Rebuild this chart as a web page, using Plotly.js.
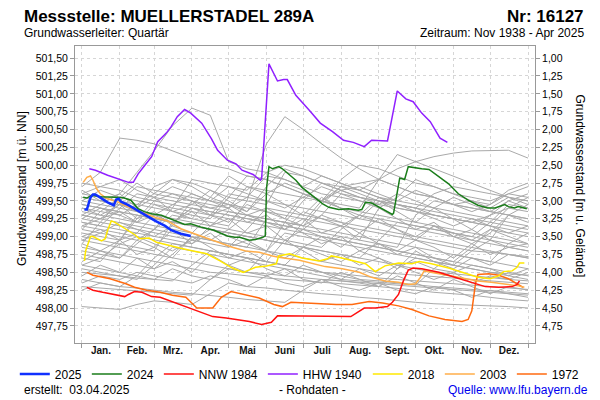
<!DOCTYPE html>
<html>
<head>
<meta charset="utf-8">
<script src="https://cdn.plot.ly/plotly-3.0.1.min.js"></script>
<style>html,body{margin:0;padding:0;background:#fff}#chart{width:600px;height:400px}</style>
</head>
<body>
<div id="chart"></div>
<script>
// ---------- data (day of year, level in m ü. NN) ----------
const MONTH_EDGES = [0,31,59,90,120,151,181,212,243,273,304,334,365];
const MONTH_MIDS = [15.5,45,74.5,105,135.5,166,196.5,227.5,258,288.5,319,349.5];
const MONTH_LABELS = ["Jan.","Feb.","Mrz.","Apr.","Mai","Juni","Juli","Aug.","Sept.","Okt.","Nov.","Dez."];
const LEFT_TICKS = [497.75,498.00,498.25,498.50,498.75,499.00,499.25,499.50,499.75,500.00,500.25,500.50,500.75,501.00,501.25,501.50];
const RIGHT_TICKS = [1.00,1.25,1.50,1.75,2.00,2.25,2.50,2.75,3.00,3.25,3.50,3.75,4.00,4.25,4.50,4.75];
const GROUND = 502.5;

const d2025 = [2,4,7,9,11,16,21,26,28,30,32,38,45,51,60,68,73,81,89];
const v2025 = [499.38,499.38,499.55,499.59,499.59,499.53,499.48,499.44,499.52,499.53,499.49,499.44,499.37,499.30,499.22,499.15,499.09,499.04,499.01];

const d2024 = [1,4,8,16,27,34,40,46,51,57,65,76,84,89,98,108,119,125,129,137,142,148,150,151,153,156,161,164,170,175,180,188,197,202,210,218,226,229,232,237,246,251,254,255,258,260,262,264,267,270,278,284,292,300,308,316,324,332,338,342,346,349,354,357,364];
const v2024 = [499.55,499.54,499.58,499.56,499.55,499.545,499.51,499.39,499.35,499.32,499.30,499.23,499.17,499.18,499.13,499.09,499.01,498.99,498.99,498.95,498.96,498.99,499.01,499.67,499.98,499.95,499.98,499.95,499.86,499.79,499.69,499.58,499.46,499.41,499.38,499.39,499.37,499.38,499.48,499.47,499.39,499.34,499.31,499.33,499.60,499.82,499.81,499.80,499.98,499.97,499.95,499.94,499.84,499.74,499.60,499.51,499.44,499.40,499.40,499.42,499.45,499.42,499.40,499.42,499.39];

const dNNW = [4,9,17,26,35,38,43,49,53,57,64,72,85,96,107,118,129,137,147,155,160,168,190,205,220,231,240,250,254,259,263,267,271,278,292,305,319,330,341,352,356,358];
const vNNW = [498.29,498.25,498.22,498.19,498.16,498.19,498.23,498.22,498.19,498.16,498.15,498.10,498.01,497.94,497.88,497.86,497.83,497.81,497.77,497.80,497.89,497.89,497.88,497.88,497.88,498.00,498.00,498.02,498.08,498.19,498.38,498.53,498.56,498.55,498.50,498.43,498.36,498.30,498.29,498.30,498.33,498.38];

const dHHW = [6,11,21,32,38,42,46,51,57,62,69,73,78,84,89,98,106,111,119,126,131,140,146,147,153,160,165,168,175,186,195,205,214,222,231,237,246,250,258,265,271,278,285,293,299];
const vHHW = [499.95,499.93,499.86,499.79,499.76,499.76,499.88,499.99,500.12,500.33,500.45,500.54,500.68,500.78,500.73,500.59,500.37,500.21,500.07,500.02,499.93,499.87,499.79,499.81,501.42,501.18,501.20,501.20,500.98,500.77,500.59,500.47,500.35,500.32,500.26,500.35,500.34,500.34,501.04,500.93,500.89,500.73,500.61,500.38,500.32];

const d2018 = [2,3,7,9,16,19,21,24,27,31,36,43,47,55,61,72,80,91,102,113,123,132,137,142,151,159,161,170,180,194,201,204,210,221,232,240,248,259,270,276,286,300,314,324,334,341,345,352,356,358,362];
const v2018 = [498.66,498.80,499.00,499.00,498.94,498.97,499.09,499.22,499.20,499.16,499.10,499.03,498.97,498.98,498.92,498.87,498.84,498.80,498.76,498.66,498.56,498.50,498.54,498.57,498.59,498.62,498.73,498.76,498.70,498.66,498.69,498.73,498.71,498.67,498.62,498.51,498.59,498.63,498.62,498.65,498.62,498.56,498.48,498.43,498.41,498.45,498.51,498.52,498.57,498.63,498.63];

const d2003 = [1,4,7,9,12,15,19,21,30,35,49,60,70,81,92,103,114,123,134,145,156,161,178,189,199,213,227,237,248,259,267,273,277,280,286,300,314,324,335,346,357,362];
const v2003 = [499.76,499.83,499.85,499.79,499.67,499.60,499.55,499.53,499.48,499.44,499.34,499.27,499.22,499.11,499.04,498.97,498.91,498.85,498.80,498.78,498.73,498.71,498.67,498.62,498.58,498.55,498.50,498.43,498.38,498.36,498.33,498.34,498.43,498.52,498.50,498.45,498.41,498.38,498.36,498.34,498.31,498.29];

const d1972 = [4,9,23,36,43,53,64,74,85,94,107,114,122,134,145,157,164,171,191,208,221,235,246,259,270,284,297,311,316,319,322,324,333,341,349,357,361];
const v1972 = [498.50,498.46,498.41,498.34,498.29,498.25,498.22,498.18,498.15,498.00,498.00,498.15,498.23,498.18,498.14,498.05,498.02,498.08,498.06,498.05,498.05,498.09,498.07,498.03,497.98,497.89,497.84,497.81,497.84,497.96,498.34,498.47,498.48,498.46,498.41,498.33,498.29];

// other years (grey), sampled twice a month
const GRAY_DAYS = [0,15,31,45,59,74,90,105,120,135,151,166,181,196,212,227,243,258,273,288,304,319,334,349,365];
const gray01 = [499.40,499.35,499.30,499.45,499.60,499.55,499.50,499.45,499.40,499.70,499.65,499.60,499.55,499.50,499.70,499.75,499.80,499.95,500.05,500.12,500.17,500.20,500.20,500.21,500.10];
const gray02 = [499.30,499.45,499.60,499.90,500.20,500.55,500.80,500.70,500.05,499.95,499.90,499.80,499.70,499.60,499.55,499.50,499.45,499.40,499.35,499.30,499.25,499.20,499.30,499.40,499.35];
const gray03 = [499.10,499.05,499.00,498.95,499.10,499.30,499.25,499.20,499.15,499.50,500.30,500.68,500.50,500.30,500.10,499.95,499.80,499.70,499.60,499.55,499.45,499.40,499.35,499.30,499.25];
const gray04 = [499.70,499.90,500.38,500.35,500.30,500.20,500.10,500.00,499.95,499.85,499.80,499.70,499.60,499.50,499.80,500.00,499.95,499.85,499.75,499.70,499.60,499.55,499.50,499.60,499.70];
const gray05 = [499.55,499.50,499.45,499.40,499.70,499.80,499.75,499.65,499.55,499.50,499.45,499.90,499.85,499.75,499.65,499.55,499.50,499.45,499.40,499.60,499.70,499.65,499.60,499.55,499.50];
const gray06 = [499.20,499.15,499.40,499.60,499.55,499.50,499.45,499.40,499.35,499.30,499.25,499.20,499.15,499.45,499.70,499.65,499.55,499.45,499.40,499.30,499.25,499.20,499.15,499.40,499.55];
const gray07 = [499.00,498.95,498.90,498.85,498.80,499.20,499.40,499.35,499.30,499.25,499.20,499.15,499.10,499.05,499.00,498.95,498.90,498.85,499.30,499.50,499.45,499.40,499.35,499.30,499.25];
const gray08 = [498.80,498.75,498.70,498.90,499.10,499.05,499.00,498.95,498.90,498.85,499.25,499.20,499.15,499.10,499.05,499.00,498.95,498.90,498.85,498.80,498.75,498.70,498.65,498.90,499.05];
const gray09 = [498.60,498.55,498.50,498.45,498.70,498.90,498.85,498.80,498.75,498.70,498.65,498.60,498.85,499.00,498.95,498.90,498.85,498.80,498.75,498.70,498.65,498.60,498.55,498.50,498.45];
const gray10 = [499.35,499.30,499.25,499.20,499.15,499.10,499.05,499.30,499.60,499.55,499.50,499.45,499.40,499.35,499.30,499.25,499.20,499.15,499.10,499.05,499.00,498.95,498.90,498.85,498.80];
const gray11 = [498.40,498.35,498.30,498.28,498.25,498.22,498.20,498.18,498.15,498.12,498.10,498.08,498.25,498.40,498.38,498.35,498.30,498.28,498.25,498.22,498.20,498.18,498.15,498.12,498.10];
const gray12 = [498.02,498.00,497.98,498.05,498.10,498.08,498.05,498.20,498.35,498.30,498.28,498.25,498.22,498.20,498.18,498.15,498.13,498.10,498.08,498.06,498.05,498.04,498.03,498.02,498.00];
const gray13 = [499.15,499.10,499.05,499.00,498.95,498.90,498.85,498.80,498.75,498.70,498.65,498.60,498.55,498.50,498.45,498.40,498.38,498.35,498.32,498.30,498.28,498.26,498.24,498.22,498.20];
const gray14 = [499.45,499.40,499.35,499.30,499.25,499.20,499.15,499.10,499.05,499.00,498.95,498.90,498.85,498.80,498.75,498.70,498.65,498.60,498.55,498.50,498.48,498.45,498.42,498.40,498.38];
const gray15 = [498.90,499.20,499.15,499.10,499.05,499.00,498.95,498.90,498.85,499.10,499.40,499.35,499.30,499.25,499.20,499.15,499.10,499.05,499.00,498.95,498.90,498.85,498.80,498.75,498.70];
const gray16 = [498.70,498.65,498.95,499.30,499.25,499.20,499.15,499.10,499.05,499.00,498.95,498.90,498.85,498.80,498.75,498.70,498.95,499.20,499.15,499.10,499.05,499.00,498.95,498.90,498.85];
const gray17 = [499.60,499.55,499.50,499.45,499.40,499.35,499.30,499.25,499.55,499.85,499.80,499.70,499.60,499.50,499.40,499.35,499.30,499.25,499.20,499.15,499.10,499.05,499.00,498.95,498.90];
const gray18 = [498.50,498.48,498.45,498.42,498.40,498.38,498.60,498.80,498.75,498.70,498.65,498.60,498.55,498.50,498.48,498.45,498.42,498.40,498.38,498.36,498.34,498.32,498.30,498.28,498.26];
const gray19 = [499.25,499.20,499.50,499.70,499.65,499.60,499.55,499.50,499.45,499.40,499.35,499.30,499.25,499.20,499.15,499.10,499.05,499.00,498.95,498.90,498.85,498.80,498.78,498.75,498.72];
const gray20 = [498.85,498.80,498.75,498.70,498.65,498.60,498.55,498.50,498.48,498.45,498.42,498.40,498.38,498.36,498.34,498.32,498.30,498.55,498.70,498.65,498.60,498.55,498.50,498.45,498.40];
const gray21 = [499.05,499.00,498.95,499.25,499.50,499.45,499.40,499.35,499.30,499.25,499.20,499.15,499.10,499.30,499.60,499.55,499.50,499.45,499.40,499.35,499.30,499.25,499.20,499.15,499.10];
const gray22 = [499.30,499.25,499.20,499.15,499.10,499.40,499.80,499.75,499.70,499.65,499.90,500.00,499.95,499.85,499.75,499.65,499.55,499.50,499.45,499.40,499.35,499.30,499.25,499.20,499.15];
const gray23 = [498.30,498.28,498.26,498.24,498.22,498.20,498.18,498.40,498.55,498.50,498.48,498.45,498.42,498.40,498.38,498.36,498.34,498.32,498.30,498.28,498.26,498.24,498.22,498.20,498.18];
const gray24 = [499.50,499.45,499.40,499.35,499.30,499.25,499.20,499.15,499.10,499.05,499.00,498.95,498.90,498.85,499.10,499.30,499.25,499.20,499.15,499.10,499.05,499.00,499.20,499.45,499.40];
const gray25 = [498.95,498.90,498.85,498.80,498.75,498.70,498.65,498.60,498.55,498.50,498.80,499.05,499.00,498.95,498.90,498.85,498.80,498.75,498.70,498.65,498.60,498.55,498.50,498.48,498.46];
const gray26 = [499.10,499.35,499.55,499.50,499.45,499.40,499.35,499.30,499.25,499.20,499.15,499.10,499.05,499.00,498.95,498.90,498.85,498.80,498.75,498.70,498.65,498.85,499.10,499.05,499.00];
const gray27 = [499.45,499.40,499.35,499.30,499.25,499.20,499.15,499.10,499.05,499.00,498.95,498.90,499.20,499.50,499.45,499.40,499.80,500.15,500.05,499.95,499.85,499.75,499.65,499.55,499.45];
const gray28 = [498.75,498.70,498.65,498.60,498.55,498.75,499.00,498.95,498.90,498.85,498.80,498.75,498.70,498.65,498.60,498.55,498.50,498.48,498.46,498.44,498.42,498.40,498.38,498.36,498.34];
const gray29 = [499.20,499.15,499.10,499.05,499.00,498.95,498.90,499.15,499.35,499.30,499.25,499.20,499.50,499.75,499.70,499.60,499.50,499.40,499.35,499.30,499.25,499.20,499.15,499.10,499.05];
const gray30 = [498.55,498.50,498.45,498.40,498.60,498.85,498.80,498.75,498.70,498.65,498.60,498.55,498.50,498.45,498.40,498.38,498.36,498.34,498.32,498.55,498.75,498.70,498.65,498.60,498.55];
const gray31 = [499.00,499.10,498.95,499.05,499.30,499.20,499.35,499.15,499.25,499.05,499.15,498.95,499.10,499.00,498.85,499.05,498.90,498.80,498.95,498.85,498.70,498.90,498.75,498.85,498.80];
const gray32 = [498.65,498.80,498.70,498.95,498.85,499.10,498.90,499.05,498.85,498.95,498.80,499.20,499.05,498.90,499.00,498.80,498.90,498.75,498.85,498.70,498.60,498.80,498.95,498.85,498.90];
const gray33 = [499.40,499.30,499.45,499.25,499.35,499.15,499.50,499.30,499.40,499.20,499.30,499.10,499.25,499.05,499.15,498.95,499.40,499.25,499.10,499.20,499.00,499.10,498.95,499.30,499.20];
const gray34 = [498.45,498.60,498.50,498.70,498.55,498.65,498.50,498.75,498.60,498.70,498.55,498.45,498.60,498.50,498.40,498.55,498.45,498.60,498.50,498.40,498.50,498.35,498.45,498.40,498.50];
const gray35 = [499.65,499.50,499.60,499.40,499.55,499.35,499.45,499.65,499.50,499.35,499.60,499.45,499.30,499.55,499.40,499.25,499.50,499.35,499.20,499.40,499.25,499.10,499.30,499.50,499.60];
const gray36 = [498.90,498.80,498.95,498.75,498.85,498.70,499.00,498.85,498.70,498.80,498.65,498.95,498.80,498.65,498.75,498.60,498.70,498.55,498.80,498.65,498.55,498.70,498.60,498.75,498.70];
const gray37 = [499.25,499.40,499.30,499.20,499.45,499.35,499.25,499.55,499.45,499.30,499.40,499.25,499.15,499.30,499.20,499.05,499.25,499.10,498.95,499.15,499.00,498.90,499.05,499.30,499.45];
const gray38 = [498.25,498.35,498.30,498.45,498.40,498.55,498.45,498.40,498.60,498.50,498.45,498.55,498.40,498.35,498.50,498.40,498.30,498.45,498.35,498.25,498.40,498.30,498.20,498.30,498.25];
const gray39 = [499.50,499.65,499.55,499.75,499.60,499.80,499.70,499.55,499.85,499.70,499.60,499.75,499.65,499.50,499.65,499.55,499.45,499.60,499.50,499.40,499.55,499.45,499.35,499.50,499.40];
const gray40 = [498.95,499.05,499.20,499.10,499.00,499.15,499.05,498.95,499.10,499.30,499.20,499.10,499.35,499.25,499.15,499.30,499.20,499.10,499.00,499.15,499.05,498.95,499.10,499.00,498.90];
const gray41 = [499.30,499.25,499.35,499.20,499.30,499.45,499.60,499.50,499.40,499.55,499.85,499.80,499.70,499.85,499.75,499.65,499.80,499.70,499.60,499.55,499.45,499.50,499.40,499.55,499.50];
const gray42 = [499.60,499.70,499.65,499.55,499.50,499.60,499.50,499.40,499.45,499.35,499.70,499.95,499.85,499.75,499.65,499.70,499.60,499.50,499.65,499.55,499.45,499.35,499.45,499.60,499.55];
const gray43 = [498.35,498.45,498.40,498.50,498.45,498.40,498.35,498.45,498.40,498.30,498.45,498.35,498.30,498.40,498.30,498.25,498.35,498.25,498.20,498.30,498.25,498.15,498.25,498.20,498.15];
const gray44 = [499.15,499.25,499.45,499.35,499.25,499.20,499.40,499.30,499.20,499.45,499.35,499.25,499.60,499.50,499.40,499.30,499.55,499.45,499.35,499.25,499.15,499.25,499.15,499.05,499.15];
const gray45 = [498.60,498.70,498.90,499.00,498.90,498.80,498.95,499.10,499.00,498.90,498.80,498.70,498.85,498.75,498.65,498.80,498.70,498.60,498.65,498.55,498.50,498.60,498.55,498.45,498.55];
const gray46 = [499.75,499.70,499.80,499.65,499.55,499.70,499.60,499.50,499.70,499.60,499.50,499.40,499.55,499.70,499.60,499.50,499.40,499.55,499.80,499.70,499.60,499.50,499.45,499.65,499.75];
const GRAY_SERIES = [gray01,gray02,gray03,gray04,gray05,gray06,gray07,gray08,gray09,gray10,gray11,gray12,gray13,gray14,gray15,gray16,gray17,gray18,gray19,gray20,gray21,gray22,gray23,gray24,gray25,gray26,gray27,gray28,gray29,gray30,gray31,gray32,gray33,gray34,gray35,gray36,gray37,gray38,gray39,gray40,gray41,gray42,gray43,gray44,gray45,gray46];

// ---------- traces ----------
const FONT = "Liberation Sans, Arial, sans-serif";
const traces = [];
GRAY_SERIES.forEach(v => traces.push({
  x: GRAY_DAYS, y: v, type: "scatter", mode: "lines",
  line: {color: "#a9a9a9", width: 1}, showlegend: false, hoverinfo: "skip"
}));
const named = [
  {name: "1972", x: d1972, y: v1972, color: "#ff6a10", width: 1.5, legend: "legend2"},
  {name: "2003", x: d2003, y: v2003, color: "#ffae4a", width: 1.5, legend: "legend2"},
  {name: "2018", x: d2018, y: v2018, color: "#ffe800", width: 1.5, legend: "legend2"},
  {name: "HHW 1940", x: dHHW, y: vHHW, color: "#9020ff", width: 1.5, legend: "legend"},
  {name: "NNW 1984", x: dNNW, y: vNNW, color: "#ff1010", width: 1.5, legend: "legend"},
  {name: "2024", x: d2024, y: v2024, color: "#1a7d1a", width: 1.5, legend: "legend"},
  {name: "2025", x: d2025, y: v2025, color: "#1030ff", width: 2.5, legend: "legend"}
];
named.forEach(s => traces.push({
  x: s.x, y: s.y, name: s.name, type: "scatter", mode: "lines", legend: s.legend,
  line: {color: s.color, width: s.width}
}));
// carrier trace for the secondary axes (month labels, depth axis)
traces.push({x: [], y: [], xaxis: "x2", yaxis: "y2", showlegend: false, hoverinfo: "skip", type: "scatter"});

const XR = [-5.7, 370.7];
const YR = [497.51, 501.67];
const gridStyle = {gridcolor: "#d6d6d6", griddash: "3px,3px", gridwidth: 1};
const legendBase = {orientation: "h", xref: "container", yref: "container", y: 0.065, yanchor: "middle",
  traceorder: "reversed", font: {family: FONT, size: 12}, itemwidth: 30, bgcolor: "rgba(0,0,0,0)"};

const layout = {
  width: 600, height: 400,
  margin: {l: 75, r: 65, t: 46, b: 57, autoexpand: false},
  paper_bgcolor: "#fff", plot_bgcolor: "#fff",
  separators: ",.",
  font: {family: FONT, size: 12, color: "#000"},
  showlegend: true,
  legend: Object.assign({x: 0.613, xanchor: "right"}, legendBase),
  legend2: Object.assign({x: 0.613, xanchor: "left"}, legendBase),
  xaxis: Object.assign({range: XR, tickvals: MONTH_EDGES, ticktext: MONTH_EDGES.map(() => ""),
    ticks: "outside", ticklen: 4, tickcolor: "#999", showline: true, mirror: true, linecolor: "#999",
    zeroline: false, fixedrange: true}, gridStyle),
  xaxis2: {overlaying: "x", side: "bottom", anchor: "y", range: XR, tickvals: MONTH_MIDS, ticktext: MONTH_LABELS,
    ticks: "", showgrid: false, zeroline: false, showline: false,
    tickfont: {family: FONT, size: 10, weight: "bold", color: "#111"}},
  yaxis: Object.assign({range: YR, tickvals: LEFT_TICKS, tickformat: ".2f", ticks: "outside", ticklen: 4,
    tickcolor: "#999", showline: true, mirror: true, linecolor: "#999", zeroline: false,
    tickfont: {family: FONT, size: 10.5}}, gridStyle),
  yaxis2: {overlaying: "y", side: "right", anchor: "x", range: [GROUND - YR[0], GROUND - YR[1]],
    tickvals: RIGHT_TICKS, tickformat: ".2f", ticks: "outside", ticklen: 4, tickcolor: "#999",
    showgrid: false, zeroline: false, showline: false, tickfont: {family: FONT, size: 10.5}},
  annotations: [
    {text: "Messstelle: MUELLERSTADEL 289A", xref: "paper", yref: "paper", x: -0.1152, y: 1.101,
     xanchor: "left", yanchor: "middle", showarrow: false, font: {family: FONT, size: 17, weight: "bold"}},
    {text: "Nr: 16127", xref: "paper", yref: "paper", x: 1.111, y: 1.101,
     xanchor: "right", yanchor: "middle", showarrow: false, font: {family: FONT, size: 17, weight: "bold"}},
    {text: "Grundwasserleiter: Quartär", xref: "paper", yref: "paper", x: -0.1152, y: 1.044,
     xanchor: "left", yanchor: "middle", showarrow: false, font: {family: FONT, size: 12}},
    {text: "Zeitraum: Nov 1938 - Apr 2025", xref: "paper", yref: "paper", x: 1.111, y: 1.044,
     xanchor: "right", yanchor: "middle", showarrow: false, font: {family: FONT, size: 12}},
    {text: "Grundwasserstand [m ü. NN]", xref: "paper", yref: "paper", x: -0.115, y: 0.519,
     xanchor: "center", yanchor: "middle", textangle: -90, showarrow: false, font: {family: FONT, size: 12}},
    {text: "Grundwasserstand [m u. Gelände]", xref: "paper", yref: "paper", x: 1.098, y: 0.53,
     xanchor: "center", yanchor: "middle", textangle: 90, showarrow: false, font: {family: FONT, size: 12}},
    {text: "erstellt:  03.04.2025", xref: "paper", yref: "paper", x: -0.1152, y: -0.158,
     xanchor: "left", yanchor: "middle", showarrow: false, font: {family: FONT, size: 12}},
    {text: "- Rohdaten -", xref: "paper", yref: "paper", x: 0.517, y: -0.158,
     xanchor: "center", yanchor: "middle", showarrow: false, font: {family: FONT, size: 12}},
    {text: "Quelle: www.lfu.bayern.de", xref: "paper", yref: "paper", x: 1.12, y: -0.158,
     xanchor: "right", yanchor: "middle", showarrow: false, font: {family: FONT, size: 12, color: "#0000ee"}}
  ]
};

Plotly.newPlot("chart", traces, layout, {staticPlot: true, displayModeBar: false});
</script>
</body>
</html>
